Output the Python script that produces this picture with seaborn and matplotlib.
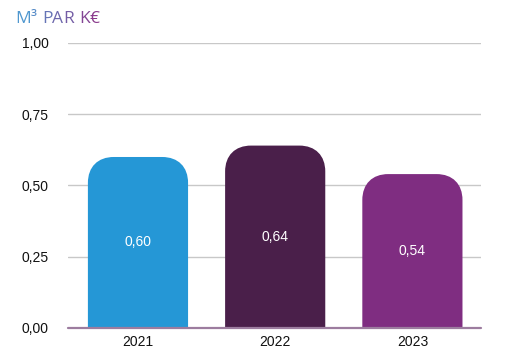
import numpy as np
import pandas as pd
import matplotlib
matplotlib.use("Agg")
import matplotlib.pyplot as plt
import matplotlib.colors as mcolors
from matplotlib.patches import PathPatch
from matplotlib.path import Path
import seaborn as sns

years = ["2021", "2022", "2023"]
values = [0.60, 0.64, 0.54]
labels = ["0,60", "0,64", "0,54"]
bar_colors = ["#2597d6", "#4a1f4a", "#7f2d81"]
yticks = [0.0, 0.25, 0.5, 0.75, 1.0]
ytick_labels = ["0,00", "0,25", "0,50", "0,75", "1,00"]
title = "M³ PAR K€"

sns.set_theme(style="white")
plt.rcParams['font.family'] = ['Liberation Sans', 'DejaVu Sans']

df = pd.DataFrame({"year": years, "value": values})

fig = plt.figure(figsize=(5.09, 3.6), dpi=100)
ax = fig.add_axes([0.1336, 0.0889, 0.8114, 0.7917])

sns.barplot(data=df, x="year", y="value", hue="year", palette=bar_colors,
            saturation=1, width=0.73, legend=False, ax=ax, zorder=3)

ax.set_xlim(-0.51, 2.5)
ax.set_ylim(0, 1.0)


def rounded_top(x0, w, h, rx, ry, k=0.62):
    verts = [
        (x0, 0), (x0, h - ry),
        (x0, h - ry + k * ry), (x0 + rx - k * rx, h), (x0 + rx, h),
        (x0 + w - rx, h),
        (x0 + w - rx + k * rx, h), (x0 + w, h - ry + k * ry), (x0 + w, h - ry),
        (x0 + w, 0), (x0, 0),
    ]
    codes = [Path.MOVETO, Path.LINETO,
             Path.CURVE4, Path.CURVE4, Path.CURVE4,
             Path.LINETO,
             Path.CURVE4, Path.CURVE4, Path.CURVE4,
             Path.LINETO, Path.CLOSEPOLY]
    return Path(verts, codes)


# corner radius ~26 px, converted to data units on each axis
fig.canvas.draw()
px_x = ax.transData.transform((1, 0))[0] - ax.transData.transform((0, 0))[0]
px_y = ax.transData.transform((0, 1))[1] - ax.transData.transform((0, 0))[1]
r_px = 26
for patch in list(ax.patches):
    x0, w, h = patch.get_x(), patch.get_width(), patch.get_height()
    c = patch.get_facecolor()
    patch.set_visible(False)
    ax.add_patch(PathPatch(rounded_top(x0, w, h, r_px / px_x, r_px / px_y),
                           fc=c, ec="none", zorder=3))

for i, (v, lab) in enumerate(zip(values, labels)):
    ax.text(i, v / 2, lab, color="white", ha="center", va="center",
            fontsize=10, zorder=4)

ax.set_yticks(yticks)
ax.set_yticklabels(ytick_labels)
ax.yaxis.grid(True, color="#c8c8c8", lw=1, zorder=0)
ax.axhline(0, color="#9c7c9f", lw=1.6, zorder=5, clip_on=False)
for s in ax.spines.values():
    s.set_visible(False)
ax.tick_params(axis="both", length=0, labelsize=10, labelcolor="#111111")
ax.tick_params(axis="y", pad=14)
ax.tick_params(axis="x", pad=5)
ax.set_xlabel("")
ax.set_ylabel("")

# title with a blue-to-purple gradient, one character at a time
cmap = mcolors.LinearSegmentedColormap.from_list("t", ["#4f97cf", "#8a3a8c"])
renderer = fig.canvas.get_renderer()
xpos = 15 / 509
for k, ch in enumerate(title):
    t = fig.text(xpos, 1 - 19 / 360, ch, fontsize=12.5, family=['Open Sans', 'DejaVu Sans'],
                 color=cmap(k / (len(title) - 1)), va="center", ha="left")
    bb = t.get_window_extent(renderer=renderer)
    xpos += bb.width / fig.bbox.width if ch != " " else 5 / 509

fig.savefig("out.png", dpi=100)
